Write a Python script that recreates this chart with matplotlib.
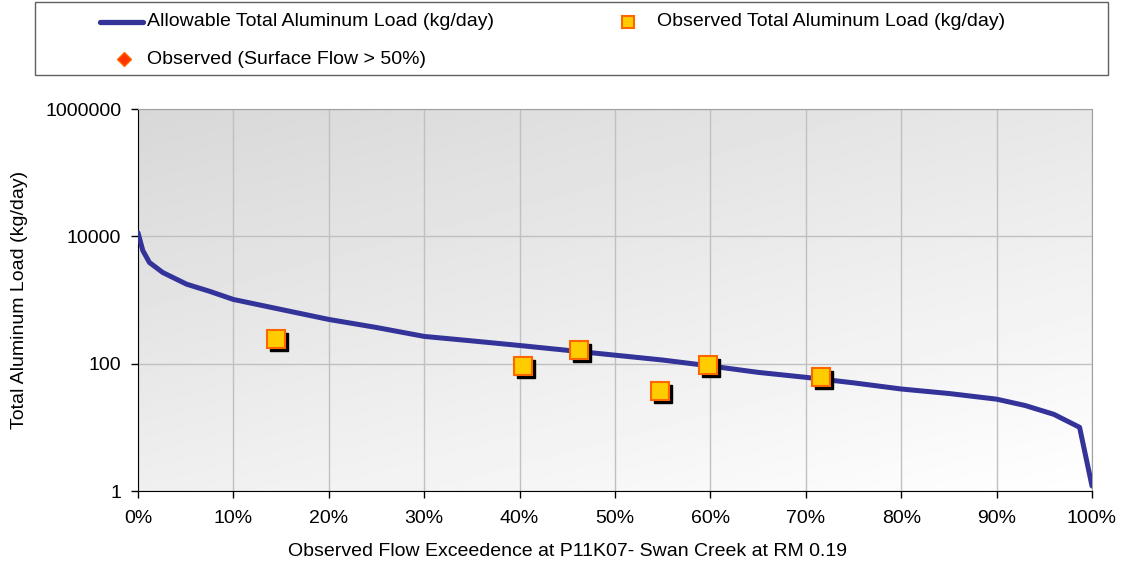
import numpy as np
import matplotlib
matplotlib.use("Agg")
import matplotlib.pyplot as plt
import matplotlib.transforms as mtrans
from matplotlib.lines import Line2D
from matplotlib.patches import Rectangle
from matplotlib.ticker import FixedLocator, FuncFormatter

plt.rcParams['font.family'] = ['Liberation Sans', 'DejaVu Sans']

# allowable load curve (flow exceedance %, kg/day)
exceed = [0, 0.5, 1.2, 2.6, 5.1, 7.5, 10, 15, 20, 25, 30, 35, 40, 45, 50,
          55, 60, 65, 70, 75, 80, 85, 90, 93, 96, 98.7, 100]
allowable = [11400, 6000, 3880, 2700, 1770, 1370, 1020, 710, 495, 370, 268, 228,
             193, 162, 136, 114, 92, 73, 61, 50, 40, 34, 27.7, 22, 16, 10, 1.2]

# observed loads
obs_exceed = [14.5, 40.4, 46.2, 54.7, 59.8, 71.6]
obs_load = [240, 93, 165, 37, 97, 62]

x_ticks = [0, 10, 20, 30, 40, 50, 60, 70, 80, 90, 100]
y_ticks = [1, 100, 10000, 1000000]

fig = plt.figure(figsize=(11.25, 5.65), dpi=100)
ax = fig.add_axes([138/1125, 1-491/565, (1092-138)/1125, (491-109)/565])

# grey-to-white background
gx, gy = np.meshgrid(np.linspace(0, 1, 200), np.linspace(0, 1, 200))
grad = 1 - (gy * 0.6 + (1 - gx) * 0.4)
ax.imshow(grad, extent=[0, 1, 0, 1], transform=ax.transAxes, cmap='gray',
          vmin=-5.5, vmax=1.0, aspect='auto', zorder=0, origin='lower')

ax.set_yscale('log')
ax.set_xlim(0, 100)
ax.set_ylim(1, 1000000)
ax.xaxis.set_major_locator(FixedLocator(x_ticks))
ax.yaxis.set_major_locator(FixedLocator(y_ticks))
ax.yaxis.set_minor_locator(FixedLocator([]))
ax.xaxis.set_major_formatter(FuncFormatter(lambda v, p: '%d%%' % v))
ax.yaxis.set_major_formatter(FuncFormatter(lambda v, p: '%d' % v))
ax.tick_params(labelsize=14, length=5, width=1, colors='black')
ax.tick_params(axis='x', pad=9)
ax.tick_params(axis='y', pad=7)
ax.grid(True, color='#c0c0c0', linewidth=1)
ax.set_axisbelow(True)
for s in ['top', 'right']:
    ax.spines[s].set_color('#a0a0a0')

ax.plot(exceed, allowable, color='#333399', linewidth=3.6, zorder=3,
        solid_capstyle='round', solid_joinstyle='round')

shadow = mtrans.offset_copy(ax.transData, fig=fig, x=3, y=-3, units='dots')
ax.plot(obs_exceed, obs_load, linestyle='none', marker='s', markersize=13,
        color='black', transform=shadow, zorder=4)
ax.plot(obs_exceed, obs_load, linestyle='none', marker='s', markersize=13,
        markerfacecolor='#ffcc00', markeredgecolor='#ff6600', markeredgewidth=1.5,
        zorder=5)

fig.text(567/1125, 1-552/565, 'Observed Flow Exceedence at P11K07- Swan Creek at RM 0.19',
         ha='center', va='center', fontsize=14)
fig.text(20/1125, 1-300/565, 'Total Aluminum Load (kg/day)', rotation=90,
         ha='center', va='center', fontsize=14)

# legend box
fig.add_artist(Rectangle((35/1125, 1-75/565), (1108-35)/1125, 73/565,
                         transform=fig.transFigure, facecolor='white',
                         edgecolor='#606060', linewidth=1))
r1 = 1-22/565
r2 = 1-59/565
fig.add_artist(Line2D([100/1125, 143/1125], [r1, r1], color='#333399', linewidth=3.8,
                      transform=fig.transFigure, solid_capstyle='round'))
fig.text(147/1125, r1, 'Allowable Total Aluminum Load (kg/day)', va='center', fontsize=14)
fig.add_artist(Line2D([628/1125], [r1], marker='s', markersize=8, markerfacecolor='#ffcc00',
                      markeredgecolor='#ff6600', markeredgewidth=1.5,
                      transform=fig.transFigure))
fig.text(657/1125, r1, 'Observed Total Aluminum Load (kg/day)', va='center', fontsize=14)
fig.add_artist(Line2D([124/1125], [r2], marker='D', markersize=7, markerfacecolor='#ff3300',
                      markeredgecolor='#ff6600', markeredgewidth=1,
                      transform=fig.transFigure))
fig.text(147/1125, r2, 'Observed (Surface Flow > 50%)', va='center', fontsize=14)

fig.savefig('out.png', dpi=100)
